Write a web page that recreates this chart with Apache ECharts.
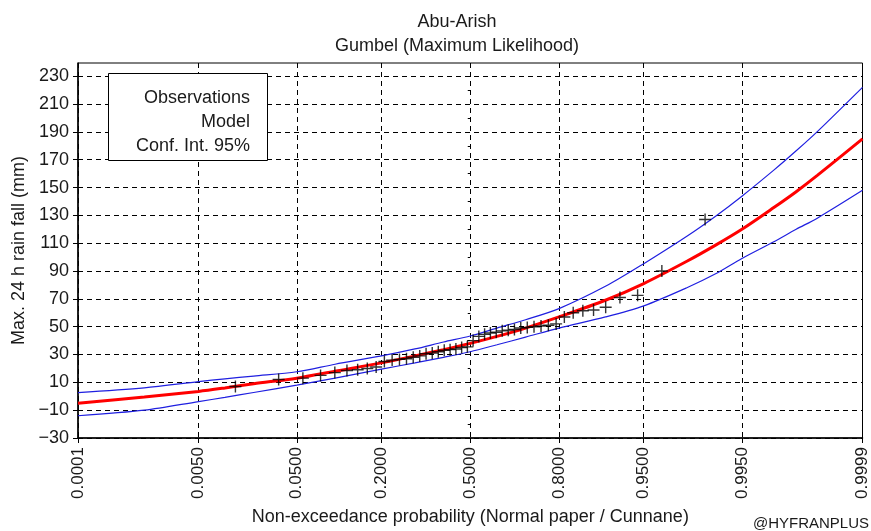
<!DOCTYPE html>
<html>
<head>
<meta charset="utf-8">
<script src="https://cdn.jsdelivr.net/npm/echarts@6/dist/echarts.min.js"></script>
<style>
html,body{margin:0;padding:0;background:#fff;}
#chart{width:871px;height:531px;}
</style>
</head>
<body>
<div id="chart"></div>
<script>
// ---- data ----
const probTicks = [0.0001, 0.005, 0.05, 0.2, 0.5, 0.8, 0.95, 0.995, 0.9999];
const probTickLabels = ['0.0001', '0.0050', '0.0500', '0.2000', '0.5000', '0.8000', '0.9500', '0.9950', '0.9999'];
const yTicks = [-30, -10, 10, 30, 50, 70, 90, 110, 130, 150, 170, 190, 210, 230];
const yMinorTicks = [-20, 0, 20, 40, 60, 80, 100, 120, 140, 160, 180, 200, 220];

// observations (Cunnane plotting positions) and values
const obsProb = [0.01299, 0.03463, 0.05628, 0.07792, 0.09957, 0.12121, 0.14286, 0.16450, 0.18615, 0.20779,
  0.22944, 0.25108, 0.27273, 0.29437, 0.31602, 0.33766, 0.35931, 0.38095, 0.40260, 0.42424,
  0.44589, 0.46753, 0.48918, 0.51082, 0.53247, 0.55411, 0.57576, 0.59740, 0.61905, 0.64069,
  0.66234, 0.68398, 0.70563, 0.72727, 0.74892, 0.77056, 0.79221, 0.81385, 0.83550, 0.85714,
  0.87879, 0.90043, 0.92208, 0.94372, 0.96537, 0.98701];
const obsValue = [7, 12, 13, 15, 17, 18.5, 19, 20, 21, 25,
  26, 26.5, 27, 28, 29, 30.5, 31, 32, 33, 33.5,
  34, 35, 35.5, 40, 43, 44.5, 45.5, 46, 47, 47.5,
  48, 49, 49.5, 50, 50.5, 51, 52, 57, 60, 61.5,
  62, 64, 71, 72.5, 90, 127];

// model curve and 95% confidence interval
const curveProb = [0.0001, 0.001, 0.005, 0.01, 0.02, 0.05, 0.1, 0.2, 0.3, 0.4, 0.5, 0.6, 0.7, 0.8, 0.9, 0.95, 0.98, 0.99, 0.995, 0.998, 0.999, 0.9995, 0.9999];
const modelValue = [-5, -0.5, 3.5, 6, 9, 13, 18, 24, 29, 33.5, 38, 43, 49, 57, 69, 81, 97, 108.6, 120, 135.6, 147, 158.7, 185];
const upperValue = [2.6, 6, 10.5, 12.5, 14.5, 17.6, 23, 29, 34, 39, 43.3, 49, 55, 63, 79, 95.3, 115, 129.4, 143.8, 162.5, 176.4, 190.2, 222];
const lowerValue = [-14, -10, -3.8, -0.8, 2.7, 8, 13, 19.5, 24, 28, 32, 37, 42.5, 49, 57, 65, 78, 88, 99, 111, 120, 128, 148];

// ---- normal probability scale (inverse normal CDF, Acklam) ----
function invNorm(p) {
  const a = [-3.969683028665376e+01, 2.209460984245205e+02, -2.759285104469687e+02, 1.383577518672690e+02, -3.066479806614716e+01, 2.506628277459239e+00];
  const b = [-5.447609879822406e+01, 1.615858368580409e+02, -1.556989798598866e+02, 6.680131188771972e+01, -1.328068155288572e+01];
  const c = [-7.784894002430293e-03, -3.223964580411365e-01, -2.400758277161838e+00, -2.549732539343734e+00, 4.374664141464968e+00, 2.938163982698783e+00];
  const d = [7.784695709041462e-03, 3.224671290700398e-01, 2.445134137142996e+00, 3.754408661907416e+00];
  const pl = 0.02425, ph = 1 - pl;
  let q, r;
  if (p < pl) {
    q = Math.sqrt(-2 * Math.log(p));
    return (((((c[0]*q+c[1])*q+c[2])*q+c[3])*q+c[4])*q+c[5]) / ((((d[0]*q+d[1])*q+d[2])*q+d[3])*q+1);
  } else if (p <= ph) {
    q = p - 0.5; r = q * q;
    return (((((a[0]*r+a[1])*r+a[2])*r+a[3])*r+a[4])*r+a[5])*q / (((((b[0]*r+b[1])*r+b[2])*r+b[3])*r+b[4])*r+1);
  } else {
    q = Math.sqrt(-2 * Math.log(1 - p));
    return -(((((c[0]*q+c[1])*q+c[2])*q+c[3])*q+c[4])*q+c[5]) / ((((d[0]*q+d[1])*q+d[2])*q+d[3])*q+1);
  }
}
const zTicks = probTicks.map(invNorm);
const zMin = zTicks[0], zMax = zTicks[zTicks.length - 1];
function pair(ps, vs) { return ps.map((p, i) => [invNorm(p), vs[i]]); }
function tickLabel(v) {
  let best = 0;
  zTicks.forEach((z, i) => { if (Math.abs(z - v) < Math.abs(zTicks[best] - v)) best = i; });
  return probTickLabels[best];
}

const FONT = '"Liberation Sans", Arial, Helvetica, sans-serif';
const TXT = '#1a1a1a';
const chart = echarts.init(document.getElementById('chart'), null, { renderer: 'canvas' });
const plusPath = 'path://M5.3,0h1.4v5.3h5.3v1.4h-5.3v5.3h-1.4v-5.3h-5.3v-1.4h5.3z';

chart.setOption({
  backgroundColor: '#fff',
  animation: false,
  grid: { left: 78, right: 5, top: 63, bottom: 91, show: true, borderColor: '#000', borderWidth: 1, backgroundColor: 'transparent' },
  xAxis: {
    type: 'value', min: zMin, max: zMax,
    name: 'Non-exceedance probability (Normal paper / Cunnane)',
    nameLocation: 'middle', nameGap: 70,
    nameTextStyle: { fontFamily: FONT, fontSize: 18, color: TXT },
    axisLine: { show: true, onZero: false, lineStyle: { color: '#000', width: 1.5 } },
    axisTick: { show: true, customValues: zTicks, length: 5, lineStyle: { color: '#000', width: 1 } },
    axisLabel: { customValues: zTicks, rotate: 90, formatter: tickLabel, fontFamily: FONT, fontSize: 17, color: TXT, margin: 9 },
    splitLine: { show: true, lineStyle: { color: '#000', type: [5, 4], width: 1 } }
  },
  yAxis: [{
    type: 'value', min: -30, max: 239.5, position: 'left',
    name: 'Max. 24 h rain fall (mm)',
    nameLocation: 'middle', nameGap: 49,
    nameTextStyle: { fontFamily: FONT, fontSize: 18, color: TXT },
    axisLine: { show: true, onZero: false, lineStyle: { color: '#000', width: 1.5 } },
    axisTick: { show: true, customValues: yTicks, length: 5, lineStyle: { color: '#000', width: 1 } },
    axisLabel: { customValues: yTicks, fontFamily: FONT, fontSize: 18, color: TXT, margin: 9,
      formatter: (v) => String(v).replace('-', '\u2212') },
    splitLine: { show: true, lineStyle: { color: '#000', type: [5, 4], width: 1 } }
  }, {
    type: 'value', min: -30, max: 239.5, position: 'left', offset: 0,
    axisLine: { show: false },
    axisTick: { show: true, customValues: yMinorTicks, length: 2.5, lineStyle: { color: '#000', width: 1 } },
    axisLabel: { show: false },
    splitLine: { show: false }
  }],
  series: [
    { name: 'Conf. Int. 95% upper', type: 'line', data: pair(curveProb, upperValue), smooth: 0.3, showSymbol: false, symbol: 'none',
      lineStyle: { color: '#1f1fe0', width: 1.2 }, z: 3 },
    { name: 'Conf. Int. 95% lower', type: 'line', data: pair(curveProb, lowerValue), smooth: 0.3, showSymbol: false, symbol: 'none',
      lineStyle: { color: '#1f1fe0', width: 1.2 }, z: 3 },
    { name: 'Model', type: 'line', data: pair(curveProb, modelValue), smooth: 0.3, showSymbol: false, symbol: 'none',
      lineStyle: { color: '#ff0000', width: 3 }, z: 4 },
    { name: 'Observations', type: 'scatter', data: pair(obsProb, obsValue), symbol: plusPath, symbolSize: 12,
      itemStyle: { color: '#000' }, z: 5 }
  ],
  graphic: [
    { type: 'text', x: 457, y: 22, style: { text: 'Abu-Arish', font: '18px ' + FONT, fill: TXT, textAlign: 'center', textVerticalAlign: 'middle' } },
    { type: 'text', x: 457, y: 46, style: { text: 'Gumbel (Maximum Likelihood)', font: '18px ' + FONT, fill: TXT, textAlign: 'center', textVerticalAlign: 'middle' } },
    { type: 'rect', shape: { x: 108.5, y: 73.5, width: 159, height: 87 }, style: { fill: '#fff', stroke: '#000', lineWidth: 1 }, z: 100 },
    { type: 'text', x: 250, y: 98, z: 101, style: { text: 'Observations', font: '18px ' + FONT, fill: TXT, textAlign: 'right', textVerticalAlign: 'middle' } },
    { type: 'text', x: 250, y: 122, z: 101, style: { text: 'Model', font: '18px ' + FONT, fill: TXT, textAlign: 'right', textVerticalAlign: 'middle' } },
    { type: 'text', x: 250, y: 146, z: 101, style: { text: 'Conf. Int. 95%', font: '18px ' + FONT, fill: TXT, textAlign: 'right', textVerticalAlign: 'middle' } },
    { type: 'text', x: 869, y: 524, style: { text: '@HYFRANPLUS', font: '15px ' + FONT, fill: TXT, textAlign: 'right', textVerticalAlign: 'middle' } }
  ]
});
</script>
</body>
</html>
